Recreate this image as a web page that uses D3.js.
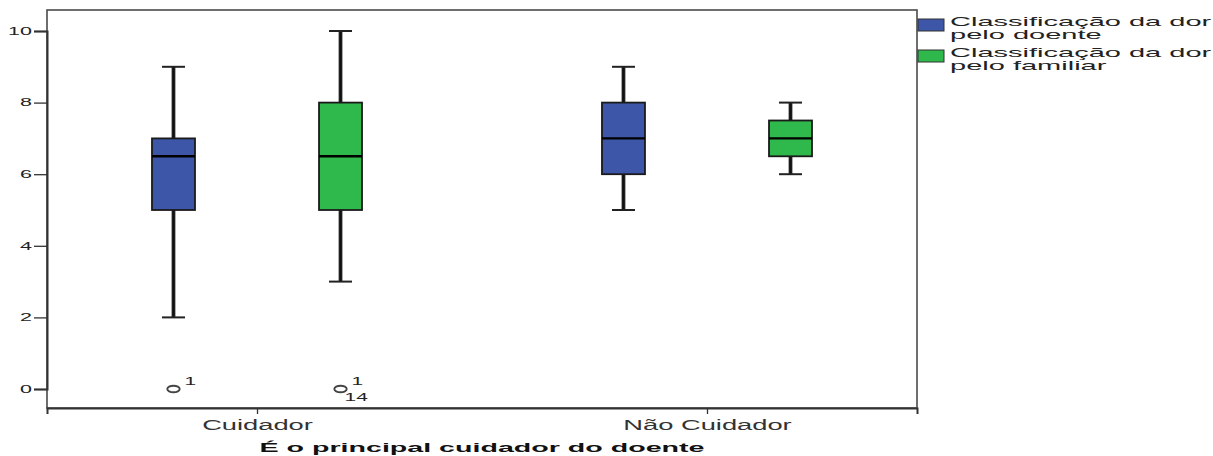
<!DOCTYPE html>
<html>
<head>
<meta charset="utf-8">
<script src="https://cdn.jsdelivr.net/npm/d3@7"></script>
<style>
  body { margin: 0; background: #fff; }
  svg { display: block; font-family: "Liberation Sans", Arial, sans-serif; }
</style>
</head>
<body>
<svg id="chart" width="1213" height="456"></svg>
<script>
// Categories on the x axis
const groups = ["Cuidador", "Não Cuidador"];
// Series (one box per series inside each group)
const seriesKeys = ["doente", "familiar"];
const legendLines = [
  ["Classificação da dor", "pelo doente"],
  ["Classificação da dor", "pelo familiar"]
];
const seriesColors = ["#3d56a8", "#2fb84b"];

// Five-number summaries, one entry per group (Cuidador, Não Cuidador)
const doenteMin    = [2, 5];
const doenteQ1     = [5, 6];
const doenteMedian = [6.5, 7];
const doenteQ3     = [7, 8];
const doenteMax    = [9, 9];

const familiarMin    = [3, 6];
const familiarQ1     = [5, 6.5];
const familiarMedian = [6.5, 7];
const familiarQ3     = [8, 7.5];
const familiarMax    = [10, 8];

// Outliers with their case numbers
const outlierGroup  = ["Cuidador", "Cuidador"];
const outlierSeries = ["doente", "familiar"];
const outlierValue  = [0, 0];
const outlierCases  = [["1"], ["1", "14"]];

const yTicks = [0, 2, 4, 6, 8, 10];
const xTitle = "É o principal cuidador do doente";

// ---- layout ----
const svg = d3.select("#chart");
const frame = { left: 47, right: 917, top: 10, bottom: 408 };
const SX = 2.05; // horizontal text stretch

const summaries = {
  doente:   { min: doenteMin, q1: doenteQ1, med: doenteMedian, q3: doenteQ3, max: doenteMax },
  familiar: { min: familiarMin, q1: familiarQ1, med: familiarMedian, q3: familiarQ3, max: familiarMax }
};

const y = d3.scaleLinear().domain([0, 10]).range([389, 31]);
const x = d3.scalePoint().domain(groups).range([frame.left, frame.right]).padding(0.4667);
const xInner = d3.scalePoint().domain(seriesKeys).range([0, x.step()]).padding(0.847);
const boxW = 43;
const capW = 23;

const posX = (g, s) => x(g) - x.step() / 2 + xInner(s);

// frame
svg.append("rect")
  .attr("x", frame.left).attr("y", frame.top)
  .attr("width", frame.right - frame.left).attr("height", frame.bottom - frame.top)
  .attr("fill", "none").attr("stroke", "#4a4a4a").attr("stroke-width", 1.6);

// y axis
const yAxis = svg.append("g")
  .attr("transform", `translate(${frame.left},0)`)
  .call(d3.axisLeft(y).tickValues(yTicks).tickSize(13).tickFormat(d3.format("d")));
yAxis.select(".domain").attr("stroke", "#333").attr("stroke-width", 2);
yAxis.selectAll(".tick line").attr("stroke", "#333").attr("stroke-width", 1.3);
yAxis.selectAll(".tick text")
  .attr("x", -15 / SX)
  .attr("transform", `scale(${SX},1)`)
  .attr("font-size", 10.5)
  .attr("fill", "#222");

// x axis
const xAxis = svg.append("g")
  .attr("transform", `translate(0,${frame.bottom})`)
  .call(d3.axisBottom(x).tickSize(6));
xAxis.select(".domain").attr("stroke", "#333").attr("stroke-width", 2);
xAxis.selectAll(".tick line").attr("stroke", "#333").attr("stroke-width", 1.3);
xAxis.selectAll(".tick text")
  .attr("y", 22).attr("dy", 0)
  .attr("transform", "scale(1.95,1)")
  .attr("font-size", 14)
  .attr("fill", "#333");

// axis title
svg.append("text")
  .attr("transform", `translate(${(frame.left + frame.right) / 2},452) scale(2.12,1)`)
  .attr("text-anchor", "middle")
  .attr("font-size", 13.5)
  .attr("font-weight", "bold")
  .attr("fill", "#111")
  .text(xTitle);

// boxes
const boxes = [];
groups.forEach((g, gi) => {
  seriesKeys.forEach((s, si) => {
    const d = summaries[s];
    boxes.push({ g, s, si, min: d.min[gi], q1: d.q1[gi], med: d.med[gi], q3: d.q3[gi], max: d.max[gi] });
  });
});

const bx = svg.append("g").selectAll("g").data(boxes).join("g");

// whisker stems
bx.append("line")
  .attr("x1", d => posX(d.g, d.s)).attr("x2", d => posX(d.g, d.s))
  .attr("y1", d => y(d.max)).attr("y2", d => y(d.min))
  .attr("stroke", "#888").attr("stroke-width", 4.4);
bx.append("line")
  .attr("x1", d => posX(d.g, d.s)).attr("x2", d => posX(d.g, d.s))
  .attr("y1", d => y(d.max)).attr("y2", d => y(d.min))
  .attr("stroke", "#111").attr("stroke-width", 2.8);

// whisker caps
["min", "max"].forEach(k => {
  bx.append("line")
    .attr("x1", d => posX(d.g, d.s) - capW / 2).attr("x2", d => posX(d.g, d.s) + capW / 2)
    .attr("y1", d => y(d[k])).attr("y2", d => y(d[k]))
    .attr("stroke", "#222").attr("stroke-width", 2);
});

// box body
bx.append("rect")
  .attr("x", d => posX(d.g, d.s) - boxW / 2)
  .attr("width", boxW)
  .attr("y", d => y(d.q3))
  .attr("height", d => y(d.q1) - y(d.q3))
  .attr("fill", d => seriesColors[d.si])
  .attr("stroke", "#1a1a1a").attr("stroke-width", 1.8);

// median
bx.append("line")
  .attr("x1", d => posX(d.g, d.s) - boxW / 2).attr("x2", d => posX(d.g, d.s) + boxW / 2)
  .attr("y1", d => y(d.med)).attr("y2", d => y(d.med))
  .attr("stroke", "#000").attr("stroke-width", 2.4);

// outliers
outlierValue.forEach((v, i) => {
  const cx = posX(outlierGroup[i], outlierSeries[i]);
  const cy = y(v);
  svg.append("ellipse")
    .attr("cx", cx).attr("cy", cy).attr("rx", 6.2).attr("ry", 3.3)
    .attr("fill", "none").attr("stroke", "#444").attr("stroke-width", 1.9);
  outlierCases[i].forEach((c, j) => {
    const tx = j === 0 ? cx + 11 : cx + 4;
    const ty = j === 0 ? cy - 4 : cy + 12;
    svg.append("text")
      .attr("transform", `translate(${tx},${ty}) scale(1.9,1)`)
      .attr("font-size", 11)
      .attr("fill", "#222")
      .text(c);
  });
});

// legend
const legend = svg.append("g");
legendLines.forEach((lines, i) => {
  const top = 19 + i * 31;
  legend.append("rect")
    .attr("x", frame.right + 1).attr("y", top)
    .attr("width", 26).attr("height", 12)
    .attr("fill", seriesColors[i]).attr("stroke", "#333").attr("stroke-width", 1);
  lines.forEach((t, j) => {
    legend.append("text")
      .attr("transform", `translate(950,${top + 7 + j * 12.5}) scale(2.15,1)`)
      .attr("font-size", 13.5)
      .attr("fill", "#222")
      .text(t);
  });
});
</script>
</body>
</html>
